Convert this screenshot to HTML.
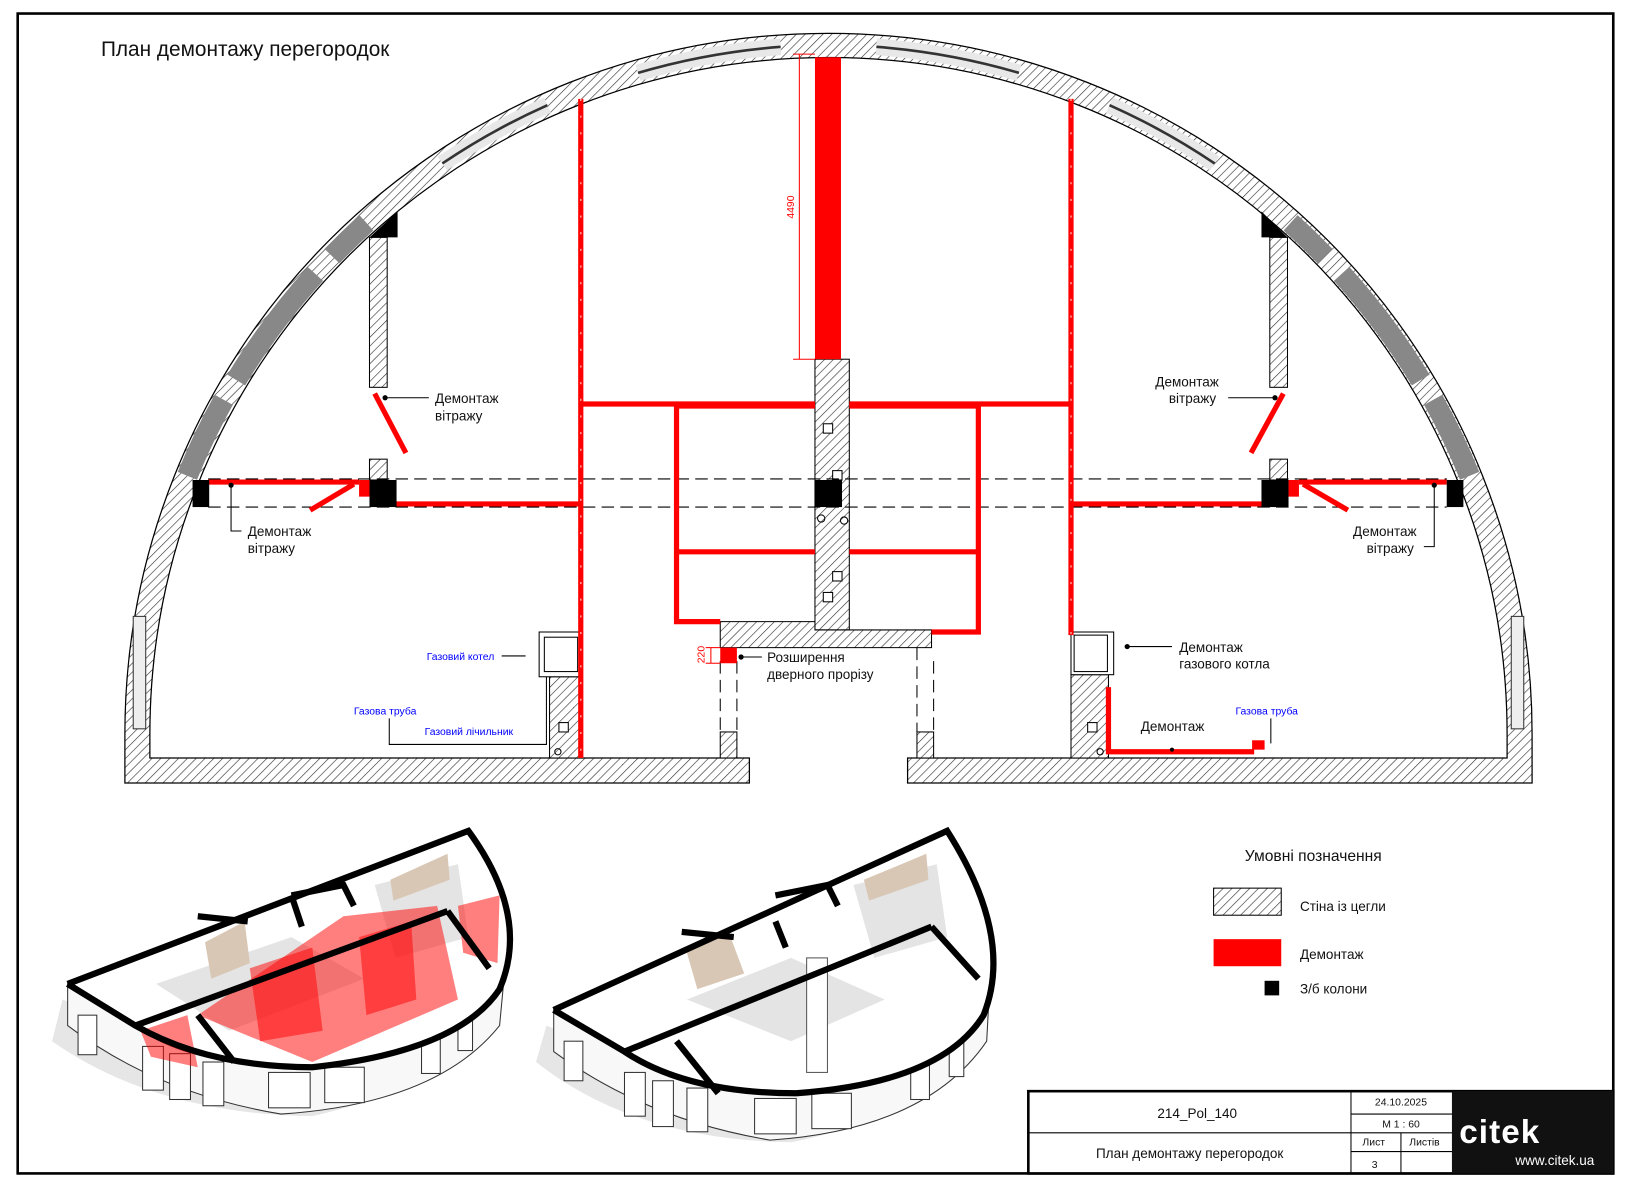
<!DOCTYPE html>
<html><head><meta charset="utf-8"><style>
html,body{margin:0;padding:0;background:#fff}
svg{display:block}
text{font-family:"Liberation Sans Narrow","Liberation Sans","DejaVu Sans Condensed",sans-serif;fill:#111}
</style></head><body>
<svg width="1632" height="1188" viewBox="0 0 1568 1141" preserveAspectRatio="none" xmlns="http://www.w3.org/2000/svg">
<defs>
<pattern id="h" width="6" height="6" patternUnits="userSpaceOnUse" patternTransform="rotate(45)">
<rect width="6" height="6" fill="#fff"/><line x1="0" y1="0" x2="0" y2="6" stroke="#333" stroke-width="1.2"/></pattern>
</defs>
<rect x="17" y="13" width="1533" height="1114" fill="none" stroke="#000" stroke-width="2.5"/>
<text x="97" y="54" font-size="20">План демонтажу перегородок</text>

<path d="M120,752 L120,705 A676,673 0 0 1 1472,705 L1472,752 L872,752 L872,728 L1448,728 L1448,705 A652,650 0 0 0 144,705 L144,728 L720,728 L720,752 Z" fill="url(#h)" stroke="#000" stroke-width="1.2"/>
<g fill="none" stroke="#888" stroke-width="20">
<path d="M180,457 A664,661 0 0 1 215,384"/><path d="M227,365 A664,661 0 0 1 303,263"/><path d="M319,246 A664,661 0 0 1 352,214"/>
<path d="M1412,457 A664,661 0 0 0 1377,384"/><path d="M1365,365 A664,661 0 0 0 1289,263"/><path d="M1273,246 A664,661 0 0 0 1240,214"/>
</g>
<g fill="none" stroke="#e8e8e8" stroke-width="16">
<path d="M425,157 A664,661 0 0 1 526,101"/><path d="M613,70 A664,661 0 0 1 750,45"/><path d="M842,45 A664,661 0 0 1 979,70"/><path d="M1066,101 A664,661 0 0 1 1167,157"/>
</g>
<g fill="none" stroke="#333" stroke-width="2.5">
<path d="M425,157 A664,661 0 0 1 526,101"/><path d="M613,70 A664,661 0 0 1 750,45"/><path d="M842,45 A664,661 0 0 1 979,70"/><path d="M1066,101 A664,661 0 0 1 1167,157"/>
</g>
<rect x="128" y="592" width="12" height="108" fill="#eee" stroke="#333"/>
<rect x="1452" y="592" width="12" height="108" fill="#eee" stroke="#333"/>

<g fill="url(#h)" stroke="#000" stroke-width="1">
<rect x="355" y="228" width="17" height="144"/>
<rect x="1220" y="228" width="17" height="144"/>
<rect x="355" y="441" width="17" height="20"/>
<rect x="1220" y="441" width="17" height="20"/>
<rect x="783" y="345" width="33" height="260"/>
<path d="M692,597 L783,597 L783,605 L895,605 L895,622 L692,622 Z"/>
<rect x="528" y="650" width="30" height="78"/>
<rect x="1029" y="648" width="36" height="80"/>
<rect x="692" y="703" width="16" height="25"/>
<rect x="881" y="703" width="16" height="25"/>
</g>
<rect x="518" y="607" width="40" height="43" fill="#fff" stroke="#000"/>
<rect x="523" y="612" width="32" height="33" fill="#fff" stroke="#000"/>
<rect x="1029" y="607" width="41" height="41" fill="#fff" stroke="#000"/>
<rect x="1032" y="610" width="32" height="35" fill="#fff" stroke="#000"/>
<g fill="#fff" stroke="#000"><rect x="791" y="407" width="9" height="9"/><rect x="800" y="452" width="9" height="9"/><rect x="800" y="549" width="9" height="9"/><rect x="791" y="569" width="9" height="9"/><rect x="537" y="694" width="9" height="9"/><rect x="1045" y="694" width="9" height="9"/></g>
<g fill="none" stroke="#000"><circle cx="789" cy="498" r="3.5"/><circle cx="811" cy="500" r="3.5"/><circle cx="536" cy="722" r="3"/><circle cx="1057" cy="722" r="3"/></g>

<path d="M355,228 L382,228 L382,203 Z" fill="#000"/>
<path d="M1237,228 L1212,228 L1212,203 Z" fill="#000"/>

<g stroke="#000" stroke-width="1" stroke-dasharray="12,6">
<line x1="200" y1="460" x2="1390" y2="460"/><line x1="200" y1="487" x2="1390" y2="487"/>
<line x1="692" y1="635" x2="692" y2="703"/><line x1="708" y1="635" x2="708" y2="703"/>
<line x1="881" y1="622" x2="881" y2="703"/><line x1="897" y1="635" x2="897" y2="703"/>
</g>

<rect x="783" y="55" width="25" height="290" fill="#f00"/>
<g fill="none" stroke="#f00" stroke-width="5">
<line x1="558" y1="95" x2="558" y2="728"/>
<line x1="1029" y1="95" x2="1029" y2="610"/>
<line x1="558" y1="388" x2="783" y2="388"/>
<line x1="816" y1="388" x2="1029" y2="388"/>
<path d="M783,390 L650,390 L650,597 L692,597"/>
<line x1="650" y1="530" x2="783" y2="530"/>
<path d="M816,390 L940,390 L940,607 L895,607"/>
<line x1="816" y1="530" x2="940" y2="530"/>
<line x1="380" y1="484" x2="558" y2="484"/>
<line x1="1029" y1="484" x2="1212" y2="484"/>
<line x1="200" y1="463" x2="345" y2="463"/>
<line x1="1248" y1="463" x2="1390" y2="463"/>
<line x1="360" y1="378" x2="390" y2="435"/>
<line x1="1233" y1="378" x2="1202" y2="435"/>
<line x1="340" y1="465" x2="298" y2="490"/>
<line x1="1252" y1="465" x2="1295" y2="490"/>
<path d="M1065,660 L1065,722 L1205,722"/>
</g>
<g stroke="#fff" stroke-width="1.5" stroke-dasharray="2,14" fill="none" opacity="0.6">
<line x1="558" y1="95" x2="558" y2="728"/><line x1="1029" y1="95" x2="1029" y2="610"/>
</g>
<rect x="345" y="461" width="10" height="16" fill="#f00"/>
<rect x="1238" y="461" width="10" height="16" fill="#f00"/>
<rect x="692" y="622" width="16" height="15" fill="#f00"/>
<rect x="1203" y="711" width="12" height="9" fill="#f00"/>
<g fill="#000"><rect x="355" y="461" width="26" height="26"/><rect x="1212" y="461" width="26" height="26"/><rect x="783" y="461" width="26" height="26"/><rect x="185" y="461" width="16" height="26"/><rect x="1390" y="461" width="16" height="26"/></g>

<g stroke="#f00" stroke-width="1"><line x1="768" y1="52" x2="768" y2="345"/><line x1="762" y1="52" x2="783" y2="52"/><line x1="762" y1="345" x2="783" y2="345"/><line x1="683" y1="622" x2="683" y2="637"/><line x1="678" y1="622" x2="692" y2="622"/><line x1="678" y1="637" x2="692" y2="637"/></g>
<text x="0" y="0" font-size="10" transform="translate(763,210) rotate(-90)" style="fill:#f00">4490</text>
<text x="0" y="0" font-size="10" transform="translate(677,637) rotate(-90)" style="fill:#f00">220</text>

<g stroke="#000" stroke-width="1" fill="none">
<line x1="370" y1="382" x2="412" y2="382"/>
<line x1="1180" y1="382" x2="1225" y2="382"/>
<path d="M222,466 L222,510 L232,510"/>
<path d="M1378,466 L1378,525 L1368,525"/>
<line x1="712" y1="631" x2="732" y2="631"/>
<line x1="1083" y1="621" x2="1126" y2="621"/>
<line x1="482" y1="630" x2="505" y2="630"/>
<path d="M374,690 L374,715 L525,715 L525,650"/>
<line x1="1221" y1="690" x2="1221" y2="714"/>
</g>
<g fill="#000"><circle cx="370" cy="382" r="2.5"/><circle cx="1225" cy="382" r="2.5"/><circle cx="222" cy="466" r="2.5"/><circle cx="1378" cy="466" r="2.5"/><circle cx="712" cy="631" r="2.5"/><circle cx="1083" cy="621" r="2.5"/><circle cx="1126" cy="720" r="2"/></g>
<g font-size="13">
<text x="418" y="387">Демонтаж</text><text x="418" y="404">вітражу</text>
<text x="1110" y="371">Демонтаж</text><text x="1123" y="387">вітражу</text>
<text x="238" y="515">Демонтаж</text><text x="238" y="531">вітражу</text>
<text x="1300" y="515">Демонтаж</text><text x="1313" y="531">вітражу</text>
<text x="737" y="636">Розширення</text><text x="737" y="652">дверного прорізу</text>
<text x="1133" y="626">Демонтаж</text><text x="1133" y="642">газового котла</text>
<text x="1096" y="702">Демонтаж</text>
</g>
<g font-size="10">
<text x="410" y="634" style="fill:#00f">Газовий котел</text>
<text x="340" y="686" style="fill:#00f">Газова труба</text>
<text x="408" y="706" style="fill:#00f">Газовий лічильник</text>
<text x="1187" y="686" style="fill:#00f">Газова труба</text>
</g>

<text x="1196" y="827" font-size="15">Умовні позначення</text>
<rect x="1166" y="853" width="65" height="26" fill="url(#h)" stroke="#000"/>
<text x="1249" y="875" font-size="13">Стіна із цегли</text>
<rect x="1166" y="902" width="65" height="26" fill="#f00"/>
<text x="1249" y="921" font-size="13">Демонтаж</text>
<rect x="1215" y="942" width="14" height="14" fill="#000"/>
<text x="1249" y="954" font-size="13">З/б колони</text>

<!-- 3D left -->
<g>
<path d="M50,1000 L60,960 L140,990 Q300,1060 470,950 L490,905 Q485,1030 300,1072 Q150,1070 50,1000 Z" fill="#e6e6e6"/>
<path d="M65,945 L65,985 Q150,1050 270,1070 Q420,1060 480,985 L488,900 Q470,1010 300,1025 Q180,1025 130,985 Z" fill="#f8f8f8" stroke="#333" stroke-width="1"/>
<g fill="#fff" stroke="#333" stroke-width="1">
<rect x="75" y="975" width="18" height="38"/><rect x="137" y="1005" width="20" height="42"/><rect x="163" y="1012" width="20" height="44"/><rect x="195" y="1020" width="20" height="42"/><rect x="258" y="1030" width="40" height="34"/><rect x="312" y="1025" width="38" height="34"/><rect x="405" y="995" width="18" height="36"/><rect x="440" y="975" width="14" height="34"/>
</g>
<path d="M65,945 L450,798 Q510,880 480,950 Q440,1010 300,1025 Q200,1025 130,985 Z" fill="#fff"/>
<g fill="#e4e4e4"><path d="M150,945 L280,900 L350,940 L220,990 Z"/><path d="M360,850 L440,830 L450,900 L380,920 Z"/></g>
<g fill="#d9c7b5"><path d="M197,905 L235,885 L240,925 L203,940 Z"/><path d="M375,845 L430,820 L432,845 L378,865 Z"/></g>
<g fill="#f00" fill-opacity="0.5">
<path d="M190,975 L330,880 L420,870 L440,960 L300,1020 Z"/>
<path d="M240,930 L300,910 L310,990 L250,1000 Z"/>
<path d="M345,900 L395,885 L400,960 L352,975 Z"/>
<path d="M440,870 L480,860 L478,925 L445,915 Z"/>
<path d="M135,990 L180,975 L190,1025 L145,1015 Z"/>
</g>
<g fill="none" stroke="#000" stroke-width="6">
<path d="M65,945 L450,798 Q510,880 480,950 Q440,1010 300,1025 Q200,1025 130,985 L65,945"/>
<path d="M130,985 L430,875"/><path d="M190,975 L225,1020"/><path d="M280,860 L290,890"/><path d="M430,875 L470,930"/>
<path d="M280,860 L330,850 L340,870"/><path d="M190,880 L238,885"/>
</g>
</g>
<!-- 3D right -->
<g>
<path d="M515,1020 L525,985 L600,1015 Q770,1080 940,975 L955,930 Q950,1060 760,1097 Q610,1095 515,1020 Z" fill="#e6e6e6"/>
<path d="M532,970 L532,1010 Q620,1075 740,1095 Q890,1085 948,1000 L952,925 Q935,1035 765,1050 Q650,1050 600,1010 Z" fill="#f8f8f8" stroke="#333" stroke-width="1"/>
<g fill="#fff" stroke="#333" stroke-width="1">
<rect x="542" y="1000" width="18" height="38"/><rect x="600" y="1030" width="20" height="42"/><rect x="627" y="1038" width="20" height="44"/><rect x="660" y="1045" width="20" height="42"/><rect x="725" y="1055" width="40" height="34"/><rect x="780" y="1050" width="38" height="34"/><rect x="875" y="1020" width="18" height="36"/><rect x="912" y="1000" width="14" height="34"/>
</g>
<path d="M532,970 L910,798 Q975,900 945,975 Q905,1040 765,1050 Q660,1050 600,1010 Z" fill="#fff"/>
<g fill="#e4e4e4"><path d="M660,960 L760,920 L850,960 L760,1000 Z"/><path d="M820,850 L900,830 L910,900 L840,920 Z"/></g>
<g fill="#d9c7b5"><path d="M660,915 L700,895 L715,935 L670,950 Z"/><path d="M830,845 L890,820 L892,845 L835,865 Z"/></g>
<rect x="775" y="920" width="20" height="110" fill="#fff" stroke="#555"/>
<g fill="none" stroke="#000" stroke-width="6">
<path d="M532,970 L910,798 Q975,900 945,975 Q905,1040 765,1050 Q660,1050 600,1010 L532,970"/>
<path d="M600,1010 L895,890"/><path d="M650,1000 L690,1050"/><path d="M745,885 L755,910"/><path d="M895,890 L940,940"/>
<path d="M745,860 L795,850 L805,870"/><path d="M655,895 L705,900"/>
</g>
</g>

<rect x="988" y="1048" width="562" height="79" fill="#fff" stroke="#000" stroke-width="2.5"/>
<line x1="988" y1="1088" x2="1298" y2="1088" stroke="#000"/>
<line x1="1298" y1="1048" x2="1298" y2="1127" stroke="#000"/>
<line x1="1298" y1="1070" x2="1395" y2="1070" stroke="#000"/>
<line x1="1298" y1="1088" x2="1395" y2="1088" stroke="#000"/>
<line x1="1298" y1="1106" x2="1395" y2="1106" stroke="#000"/>
<line x1="1346" y1="1088" x2="1346" y2="1127" stroke="#000"/>
<rect x="1395" y="1048" width="155" height="79" fill="#111"/>
<text x="1112" y="1074" font-size="13">214_Pol_140</text>
<text x="1053" y="1112" font-size="13">План демонтажу перегородок</text>
<text x="1321" y="1062" font-size="10">24.10.2025</text>
<text x="1328" y="1083" font-size="10">М 1 : 60</text>
<text x="1309" y="1100" font-size="10">Лист</text>
<text x="1354" y="1100" font-size="10">Листів</text>
<text x="1318" y="1122" font-size="10">3</text>
<text x="1402" y="1098" font-size="32" font-weight="bold" style="fill:#fff;letter-spacing:1px">citek</text>
<text x="1456" y="1119" font-size="13" style="fill:#fff">www.citek.ua</text>
</svg>
</body></html>
